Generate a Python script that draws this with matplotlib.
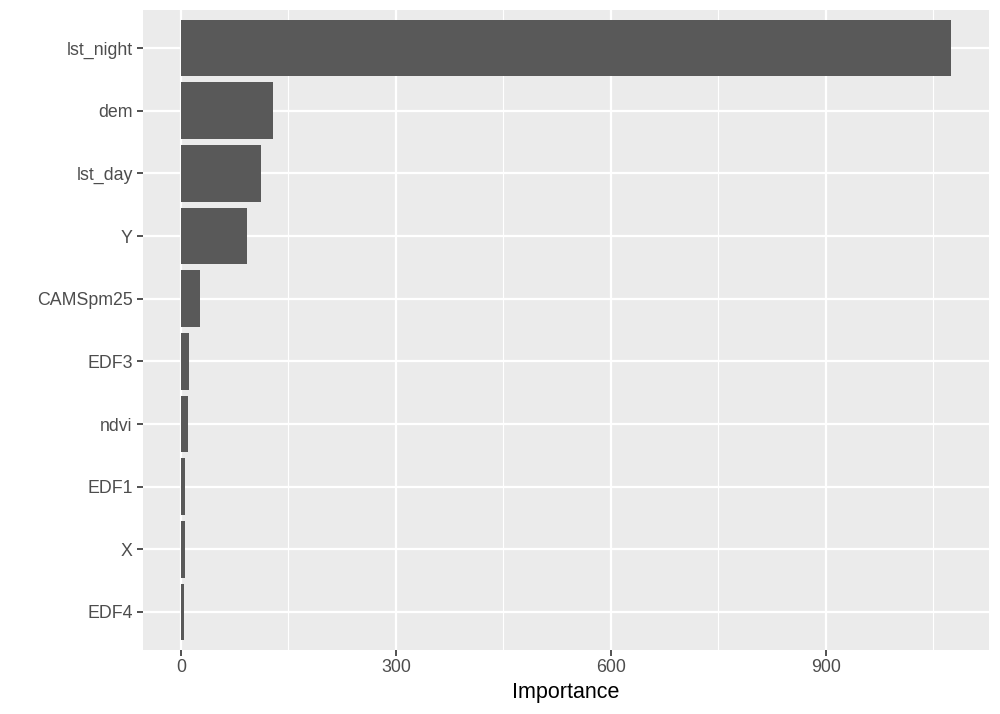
# Gráfico de importancia de variables, estilo ggplot
import numpy as np
import matplotlib.pyplot as plt

# Datos (de arriba a abajo)
variables = ['lst_night', 'dem', 'lst_day', 'Y', 'CAMSpm25', 'EDF3', 'ndvi', 'EDF1', 'X', 'EDF4']
importancia = [1074, 129, 112, 92, 26.5, 11.5, 10.2, 6.2, 5.9, 4.6]
ticks_x = [0, 300, 600, 900]
ticks_menores = [150, 450, 750, 1050]

plt.rcParams['font.family'] = ['Liberation Sans', 'DejaVu Sans']

fig = plt.figure(figsize=(10, 7.14), dpi=100)
ax = fig.add_axes([0.1425, 0.0902, 0.989 - 0.1425, 0.9854 - 0.0902])

n = len(variables)
pos = np.arange(n, 0, -1)

ax.set_facecolor('#EBEBEB')
ax.barh(pos, importancia, height=0.9, color='#595959', zorder=3)

xmax = max(importancia)
ax.set_xlim(-0.05 * xmax, 1.05 * xmax)
ax.set_ylim(0.4, n + 0.6)

ax.set_xticks(ticks_x)
ax.set_xticks(ticks_menores, minor=True)
ax.set_yticks(pos)
ax.set_yticklabels(variables)

ax.grid(True, which='major', color='white', linewidth=1.6, zorder=1)
ax.grid(True, which='minor', axis='x', color='white', linewidth=0.8, zorder=1)
ax.tick_params(which='minor', length=0)
ax.tick_params(which='major', length=4, width=1.2, color='#333333',
               labelsize=12.8, labelcolor='#4D4D4D', pad=3)

for s in ax.spines.values():
    s.set_visible(False)

ax.set_xlabel('Importance', fontsize=15.5, color='black', labelpad=4)

plt.savefig('out.png', dpi=100)
